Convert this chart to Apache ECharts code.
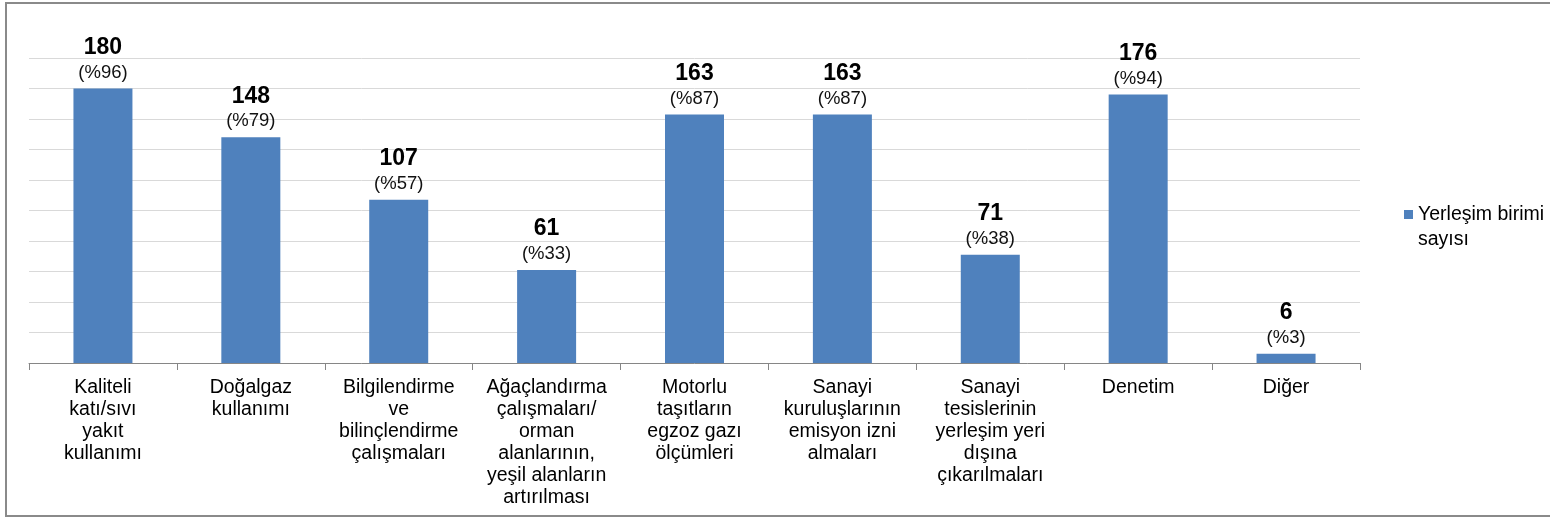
<!DOCTYPE html>
<html>
<head>
<meta charset="utf-8">
<script src="https://cdn.jsdelivr.net/npm/echarts@6/dist/echarts.min.js"></script>
<style>
  html, body { margin: 0; padding: 0; background: #fff; }
  #chart { width: 1550px; height: 518px; }
</style>
</head>
<body>
<div id="chart"></div>
<script>
// kategoriler (eksen etiketleri elle satırlara bölündü)
const categories = [
  'Kaliteli\nkatı/sıvı\nyakıt\nkullanımı',
  'Doğalgaz\nkullanımı',
  'Bilgilendirme\nve\nbilinçlendirme\nçalışmaları',
  'Ağaçlandırma\nçalışmaları/\norman\nalanlarının,\nyeşil alanların\nartırılması',
  'Motorlu\ntaşıtların\negzoz gazı\nölçümleri',
  'Sanayi\nkuruluşlarının\nemisyon izni\nalmaları',
  'Sanayi\ntesislerinin\nyerleşim yeri\ndışına\nçıkarılmaları',
  'Denetim',
  'Diğer'
];
const counts = [180, 148, 107, 61, 163, 163, 71, 176, 6];
const percents = [96, 79, 57, 33, 87, 87, 38, 94, 3];
const seriesName = 'Yerleşim birimi\nsayısı';

const font = '"Liberation Sans", Arial, sans-serif';

const chart = echarts.init(document.getElementById('chart'));

const option = {
  animation: false,
  textStyle: { fontFamily: font },
  graphic: [{
    type: 'rect',
    shape: { x: 6, y: 3, width: 1600, height: 513 },
    style: { fill: 'none', stroke: '#8a8a8a', lineWidth: 2 },
    silent: true
  }],
  legend: {
    data: [seriesName],
    left: 1404,
    top: 177,
    padding: 0,
    itemWidth: 9,
    itemHeight: 9,
    icon: 'rect',
    // boş ilk satır: simge ilk satırla hizalansın
    formatter: name => '\n' + name,
    textStyle: {
      fontFamily: font,
      fontSize: 19.5,
      color: '#000',
      lineHeight: 25
    }
  },
  grid: {
    left: 29,
    right: 190,
    top: 58,
    bottom: 155
  },
  xAxis: {
    type: 'category',
    data: categories,
    axisLine: { lineStyle: { color: '#868686', width: 1 } },
    axisTick: { show: true, length: 7, lineStyle: { color: '#868686' } },
    axisLabel: {
      interval: 0,
      margin: 14,
      color: '#000',
      fontFamily: font,
      fontSize: 19.5,
      lineHeight: 22,
      align: 'center'
    }
  },
  yAxis: {
    type: 'value',
    min: 0,
    max: 200,
    interval: 20,
    axisLine: { show: false },
    axisTick: { show: false },
    axisLabel: { show: false },
    splitLine: { lineStyle: { color: '#d9d9d9', width: 1 } }
  },
  series: [{
    name: seriesName,
    type: 'bar',
    data: counts,
    barWidth: 59,
    itemStyle: { color: '#4f81bd' },
    label: {
      show: true,
      position: 'top',
      distance: 4,
      formatter: p => '{a|' + p.value + '}\n{b|(%' + percents[p.dataIndex] + ')}',
      rich: {
        a: { fontFamily: font, fontSize: 23, fontWeight: 'bold', color: '#000', lineHeight: 26, align: 'center' },
        b: { fontFamily: font, fontSize: 18.5, color: '#111', lineHeight: 24, align: 'center' }
      }
    }
  }]
};

chart.setOption(option);
</script>
</body>
</html>
